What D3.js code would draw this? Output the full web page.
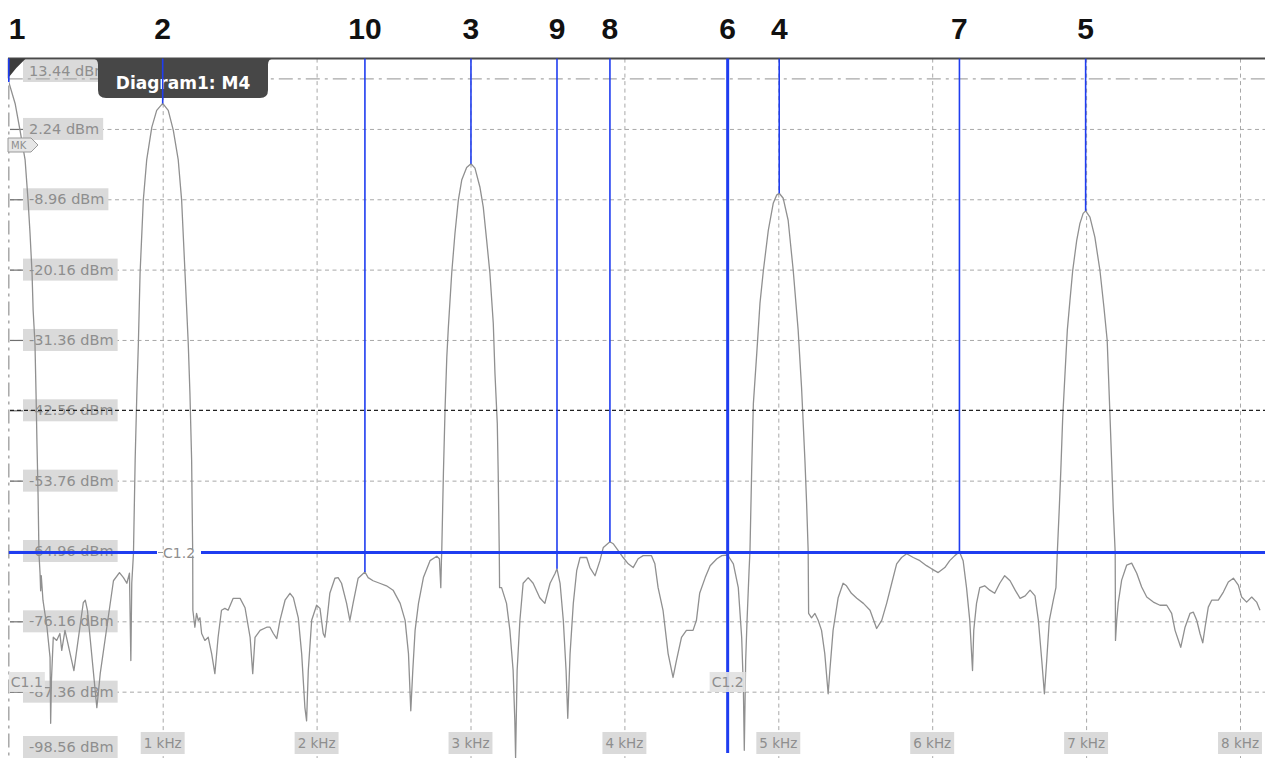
<!DOCTYPE html>
<html><head><meta charset="utf-8">
<script src="https://cdn.jsdelivr.net/npm/d3@7"></script>
<style>
html,body{margin:0;padding:0;background:#fff;overflow:hidden}
svg{display:block}
</style></head><body>
<svg id="chart" width="1265" height="758"></svg>
<script>
// ---------------- data ----------------
const traceKHz = [
 0.000,0.041,0.073,0.106,0.125,0.138,0.151,0.158,0.170,0.177,0.183,0.190,0.196,
 0.203,0.207,0.211,0.222,0.248,0.268,0.272,0.277,0.289,0.311,0.332,0.344,0.365,
 0.423,0.484,0.497,0.511,0.572,0.594,0.637,0.680,0.719,0.745,0.767,0.784,0.793,0.799,
 0.810,0.821,0.832,0.842,0.853,0.874,0.896,0.929,0.961,1.000,1.036,1.069,1.101,1.123,1.145,1.166,1.177,1.188,1.195,1.196,
 1.209,1.220,1.231,1.242,1.253,1.274,1.296,1.318,1.339,1.360,1.382,1.404,1.425,1.458,
 1.503,1.535,1.568,1.585,1.600,1.633,1.676,1.697,1.719,1.741,1.762,1.795,1.827,1.849,
 1.881,1.903,1.924,1.935,1.946,1.968,2.000,2.022,2.043,2.054,2.065,2.086,2.119,2.140,
 2.162,2.195,2.216,2.237,2.270,2.314,2.335,2.367,2.410,2.454,2.497,
 2.543,2.575,2.597,2.612,2.625,2.640,2.662,2.694,2.737,2.781,2.798,2.807,2.811,
 2.813,2.824,2.835,2.846,2.856,2.878,2.899,2.921,2.943,2.975,3.003,3.029,3.061,3.083,3.105,3.126,3.148,3.159,3.174,3.180,3.187,3.189,
 3.202,3.234,3.256,3.277,3.288,3.293,3.303,3.321,3.342,3.375,3.407,3.450,3.483,
 3.517,3.550,3.562,3.582,3.603,3.621,3.632,3.647,3.668,3.690,3.712,3.755,3.776,3.809,
 3.841,3.863,3.906,3.927,3.960,3.992,4.025,4.057,4.089,4.122,4.176,4.198,4.219,
 4.251,4.284,4.316,4.338,4.371,4.403,4.446,4.468,4.489,
 4.525,4.557,4.601,4.633,4.671,4.708,4.740,4.762,4.773,4.779,4.788,4.797,4.810,
 4.816,4.827,4.838,4.860,4.881,4.903,4.935,4.967,4.989,5.006,5.032,5.064,5.097,5.129,5.151,5.173,5.184,5.194,5.197,
 5.216,5.238,5.259,5.281,5.302,5.324,5.335,5.356,5.389,5.421,5.443,5.475,
 5.510,5.553,5.596,5.639,5.672,5.704,5.737,5.769,5.801,5.834,5.877,5.920,5.963,5.996,
 6.039,6.082,6.114,6.147,6.177,6.201,6.223,6.244,6.262,6.270,6.288,6.309,6.341,6.374,6.406,6.439,6.471,
 6.506,6.539,6.571,6.604,6.636,6.668,6.690,6.712,6.729,6.744,6.761,6.787,6.804,
 6.813,6.826,6.835,6.848,6.863,6.878,6.895,6.913,6.939,6.960,6.981,6.997,7.025,7.057,7.090,7.116,7.137,7.154,7.165,7.176,7.189,7.191,
 7.199,7.209,7.231,7.264,7.296,7.329,7.361,7.394,7.437,7.480,7.524,7.556,7.578,7.615,7.643,7.675,
 7.697,7.719,7.740,7.758,7.773,7.794,7.816,7.859,7.892,7.924,7.957,7.989,8.011,8.043,8.076,8.108,8.130
];
const traceDbm = [
 9.7,6.3,2.0,-2.7,-9.1,-14.4,-20.7,-26.6,-31.9,-39.9,-47.8,-55.8,-65.4,
 -68.5,-71.3,-68.9,-72.8,-77.1,-81.9,-92.4,-85.6,-78.7,-79.2,-78.1,-80.8,-77.6,
 -84.0,-73.2,-72.8,-74.4,-89.9,-84.5,-77.1,-69.7,-68.4,-69.2,-70.1,-68.5,-82.4,-70.1,
 -65.4,-50.5,-39.9,-31.9,-20.7,-9.1,-2.7,2.5,5.2,6.3,5.2,2.0,-2.7,-9.1,-20.7,-31.9,-39.9,-50.5,-65.4,-74.4,
 -77.1,-74.9,-76.0,-75.6,-78.1,-79.2,-78.7,-81.3,-84.5,-78.7,-74.4,-74.1,-74.4,-72.5,
 -72.5,-74.0,-78.7,-84.5,-78.7,-77.6,-77.1,-77.1,-78.1,-78.9,-76.0,-72.8,-71.7,-72.4,
 -75.6,-81.3,-89.9,-92.0,-84.0,-76.0,-73.6,-74.1,-78.1,-78.7,-76.5,-71.7,-69.3,-69.2,
 -70.1,-73.3,-76.0,-73.3,-69.3,-68.3,-69.2,-69.7,-70.1,-70.5,-71.2,
 -73.3,-76.0,-81.3,-90.4,-84.0,-77.6,-73.3,-69.2,-66.5,-65.8,-66.2,-70.8,-66.5,
 -65.2,-52.6,-42.1,-34.1,-29.4,-20.7,-14.4,-9.1,-5.9,-3.9,-3.3,-4.0,-7.0,-10.2,-15.5,-20.7,-28.7,-36.7,-44.6,-52.6,-65.2,-70.8,
 -70.8,-73.3,-77.6,-84.0,-92.0,-97.9,-84.0,-76.0,-70.1,-69.2,-70.1,-72.4,-73.3,
 -70.1,-68.5,-67.8,-70.1,-76.0,-84.0,-91.6,-81.3,-73.3,-68.1,-66.0,-66.0,-67.6,-68.9,
 -66.5,-64.4,-63.5,-63.8,-64.9,-66.0,-67.0,-67.6,-66.2,-65.7,-65.7,-67.0,-70.8,
 -74.4,-81.3,-85.1,-82.4,-78.7,-77.6,-77.6,-76.0,-71.7,
 -69.2,-67.3,-66.2,-65.7,-65.6,-67.0,-70.8,-78.7,-86.7,-96.7,-82.4,-76.0,-68.1,
 -64.9,-52.1,-41.5,-33.5,-25.5,-20.3,-13.9,-9.6,-8.3,-8.0,-8.8,-12.3,-20.3,-29.8,-38.9,-50.5,-57.4,-64.9,-74.9,
 -75.6,-74.9,-76.0,-77.6,-81.3,-87.7,-84.0,-77.6,-72.4,-70.1,-70.5,-71.7,
 -72.5,-73.3,-74.4,-77.3,-76.0,-73.3,-70.1,-67.0,-66.0,-65.4,-66.0,-66.5,-67.3,-67.8,
 -68.4,-67.6,-66.5,-65.7,-65.1,-66.5,-70.8,-76.0,-84.0,-77.6,-73.3,-70.8,-70.5,-71.2,-71.7,-70.1,-68.9,
 -69.7,-71.2,-72.5,-72.1,-71.2,-72.1,-76.0,-82.4,-87.7,-82.4,-76.0,-72.8,-70.8,
 -65.2,-58.0,-52.6,-43.7,-36.7,-29.8,-25.1,-20.3,-15.5,-12.8,-11.2,-10.8,-11.8,-15.0,-20.3,-26.2,-31.4,-42.6,-50.1,-58.0,-65.2,-79.2,
 -76.0,-73.2,-69.6,-67.2,-66.9,-68.5,-70.7,-72.3,-73.1,-73.6,-73.6,-74.9,-77.6,-80.3,-77.1,-74.9,
 -74.7,-76.0,-78.1,-79.6,-77.1,-73.9,-72.8,-72.8,-71.5,-69.9,-69.3,-70.4,-72.3,-73.1,-72.3,-73.1,-74.4
];
const markerIds  = ["1","2","10","3","9","8","6","4","7","5"];
const markerKHz  = [0.000, 1.000, 2.314, 3.003, 3.562, 3.906, 4.671, 5.006, 6.177, 6.997];
const markerDbm  = [9.7, 6.3, -68.3, -3.3, -67.8, -63.5, -65.6, -8.0, -65.1, -10.8];
const xTickKHz    = [1, 2, 3, 4, 5, 6, 7, 8];
const xTickLabels = ["1 kHz","2 kHz","3 kHz","4 kHz","5 kHz","6 kHz","7 kHz","8 kHz"];
const yTickDbm    = [13.44, 2.24, -8.96, -20.16, -31.36, -42.56, -53.76, -64.96, -76.16, -87.36, -98.56];
const yTickLabels = ["13.44 dBm","2.24 dBm","-8.96 dBm","-20.16 dBm","-31.36 dBm","-42.56 dBm","-53.76 dBm","-64.96 dBm","-76.16 dBm","-87.36 dBm","-98.56 dBm"];
const limitDbm   = -42.56;              // black dashed threshold line
const cursorNames = ["C1.1", "C1.2"];
const cursorKHz   = [0.000, 4.671];     // vertical cursors
const cursorDbm   = [10.2, -65.2];      // horizontal cursors
const diagramTitle = "Diagram1: M4";
const tagText = "MK";

// ---------------- layout ----------------
const W = 1265, H = 758;
const svg = d3.select("#chart");
const x = d3.scaleLinear().domain([0, 8]).range([8.8, 1240]);
const y = d3.scaleLinear().domain([-98.56, 13.44]).range([762, 58.6]);
const yTop = y(13.44), yBot = y(-98.56);
const BLUE = "#1f3df0";
const FONT = "'DejaVu Sans', Verdana, sans-serif";

svg.append("defs").append("clipPath").attr("id","plotclip")
  .append("rect").attr("x", x(0)).attr("y", yTop).attr("width", W - x(0)).attr("height", H - yTop);

// vertical grid via axis
const vg = svg.append("g").attr("transform", `translate(0,${yTop})`)
  .call(d3.axisBottom(x).tickValues(xTickKHz).tickSize(yBot - yTop).tickFormat(""));
vg.select(".domain").remove();
vg.selectAll("line").attr("stroke", "#a8a8a8").attr("stroke-dasharray", "4,3.5");

// horizontal grid via axis
const hgVals = yTickDbm.filter(v => v !== 13.44 && v !== limitDbm);
const hg = svg.append("g").attr("transform", `translate(10,0)`)
  .call(d3.axisRight(y).tickValues(hgVals).tickSize(W - 10).tickFormat(""));
hg.select(".domain").remove();
hg.selectAll("line").attr("stroke", "#a8a8a8").attr("stroke-dasharray", "4,3.5");

// y ticks
const yt = svg.append("g").attr("transform", `translate(10,0)`)
  .call(d3.axisRight(y).tickValues(yTickDbm.filter(v => v !== 13.44)).tickSize(13).tickFormat(""));
yt.select(".domain").remove();
yt.selectAll("line").attr("stroke", "#707070").attr("stroke-width", 1.2);

// y labels with boxes
const yl = svg.append("g");
yTickDbm.forEach((v, i) => {
  const cy = Math.max(71, Math.min(747, y(v)));
  const g = yl.append("g");
  const r = g.append("rect").attr("fill", "#dadada");
  const t = g.append("text").attr("x", 29).attr("y", cy + 5)
    .attr("font-family", FONT).attr("font-size", 14.5).attr("fill", "#8e8e8e")
    .text(yTickLabels[i]);
  const w = t.node().getComputedTextLength();
  r.attr("x", 23).attr("y", cy - 11).attr("width", w + 10).attr("height", 22);
});

// x labels with boxes
const xl = svg.append("g");
xTickKHz.forEach((v, i) => {
  const cx = x(v);
  const g = xl.append("g");
  const r = g.append("rect").attr("fill", "#dadada");
  const t = g.append("text").attr("x", cx).attr("y", 748).attr("text-anchor", "middle")
    .attr("font-family", FONT).attr("font-size", 13.5).attr("fill", "#8e8e8e")
    .text(xTickLabels[i]);
  const w = t.node().getComputedTextLength();
  r.attr("x", cx - w / 2 - 3).attr("y", 732).attr("width", w + 6).attr("height", 22);
});

// trace
const n = Math.min(traceKHz.length, traceDbm.length);
const line = d3.line().x(i => x(traceKHz[i])).y(i => y(traceDbm[i]));
svg.append("path").attr("clip-path", "url(#plotclip)")
  .attr("d", line(d3.range(n)))
  .attr("fill", "none").attr("stroke", "#909090").attr("stroke-width", 1.3)
  .attr("stroke-linejoin", "round");

// limit line (black dashed)
svg.append("line").attr("x1", 10).attr("x2", W).attr("y1", y(limitDbm)).attr("y2", y(limitDbm))
  .attr("stroke", "#222").attr("stroke-width", 1.2).attr("stroke-dasharray", "4,3");

// C1.1 cursors (gray dash-dot)
svg.append("line").attr("x1", x(0)).attr("x2", W).attr("y1", y(cursorDbm[0])).attr("y2", y(cursorDbm[0]))
  .attr("stroke", "#a8a8a8").attr("stroke-width", 1.3).attr("stroke-dasharray", "14,5,3,5");
svg.append("line").attr("x1", x(cursorKHz[0])).attr("x2", x(cursorKHz[0])).attr("y1", yTop).attr("y2", H)
  .attr("stroke", "#a8a8a8").attr("stroke-width", 1.5).attr("stroke-dasharray", "14,5,3,5");

// top frame line
svg.append("line").attr("x1", 8).attr("x2", W).attr("y1", yTop).attr("y2", yTop)
  .attr("stroke", "#4a4a4a").attr("stroke-width", 2);

// top-left dark triangle
svg.append("path").attr("d", `M${x(0)-1},${yTop} L${x(0)+17},${yTop} Q${x(0)+7},${yTop+9} ${x(0)-1},${yTop+20} Z`)
  .attr("fill", "#3c3c3c");

// C1.2 horizontal cursor (blue) with label gap
const c2y = y(cursorDbm[1]);
svg.append("line").attr("x1", x(0)).attr("x2", W).attr("y1", c2y).attr("y2", c2y)
  .attr("stroke", BLUE).attr("stroke-width", 3);
svg.append("rect").attr("x", 157).attr("y", c2y - 3).attr("width", 44).attr("height", 6).attr("fill", "#fff");
svg.append("line").attr("x1", 158).attr("x2", 163).attr("y1", c2y).attr("y2", c2y).attr("stroke", "#999").attr("stroke-width", 1);
svg.append("text").attr("x", 163).attr("y", c2y + 6).attr("font-family", FONT).attr("font-size", 14)
  .attr("fill", "#8e8e8e").text(cursorNames[1]);

// C1.2 vertical cursor (blue, thick)
svg.append("line").attr("x1", x(cursorKHz[1])).attr("x2", x(cursorKHz[1])).attr("y1", yTop).attr("y2", 753)
  .attr("stroke", BLUE).attr("stroke-width", 3);

// cursor bottom labels
[[x(cursorKHz[0]) + 1, "start", cursorNames[0]], [x(cursorKHz[1]), "middle", cursorNames[1]]].forEach(([cx, anchor, txt]) => {
  const g = svg.append("g");
  const r = g.append("rect").attr("fill", "#e2e2e2").attr("opacity", 0.92);
  const t = g.append("text").attr("x", cx + (anchor === "start" ? 1 : 0)).attr("y", 687)
    .attr("text-anchor", anchor).attr("font-family", FONT).attr("font-size", 14).attr("fill", "#8e8e8e").text(txt);
  const b = t.node().getBBox();
  r.attr("x", b.x - 2).attr("y", 672).attr("width", b.width + 4).attr("height", 20);
});

// MK tag
svg.append("path").attr("d", "M8,138 L31,138 L38,145 L31,152 L8,152 Z")
  .attr("fill", "#e6e6e6").attr("stroke", "#9a9a9a").attr("stroke-width", 1);
svg.append("text").attr("x", 11).attr("y", 149).attr("font-family", FONT).attr("font-size", 10)
  .attr("fill", "#8e8e8e").text(tagText);

// Diagram tooltip
svg.append("path")
  .attr("d", `M92,${yTop} Q98,${yTop} 98,${yTop+6} L98,90 Q98,98 106,98 L260,98 Q268,98 268,90 L268,${yTop+6} Q268,${yTop} 274,${yTop} Z`)
  .attr("fill", "#474747");
svg.append("text").attr("x", 183).attr("y", 88.5).attr("text-anchor", "middle")
  .attr("font-family", "'DejaVu Sans', sans-serif").attr("font-weight", "bold").attr("font-size", 17)
  .attr("fill", "#ffffff").text(diagramTitle);

// markers: vertical lines to trace + numbers
const mk = svg.append("g");
markerIds.forEach((id, i) => {
  const mx = x(markerKHz[i]);
  if (id !== "6") {
    mk.append("line").attr("x1", mx).attr("x2", mx).attr("y1", yTop).attr("y2", y(markerDbm[i]))
      .attr("stroke", BLUE).attr("stroke-width", 1.6);
  }
  mk.append("text").attr("x", Math.max(17, mx)).attr("y", 39).attr("text-anchor", "middle")
    .attr("font-family", "'Liberation Sans', Arial, sans-serif").attr("font-weight", "bold")
    .attr("font-size", 30).attr("fill", "#111").text(id);
});
</script>
</body></html>
